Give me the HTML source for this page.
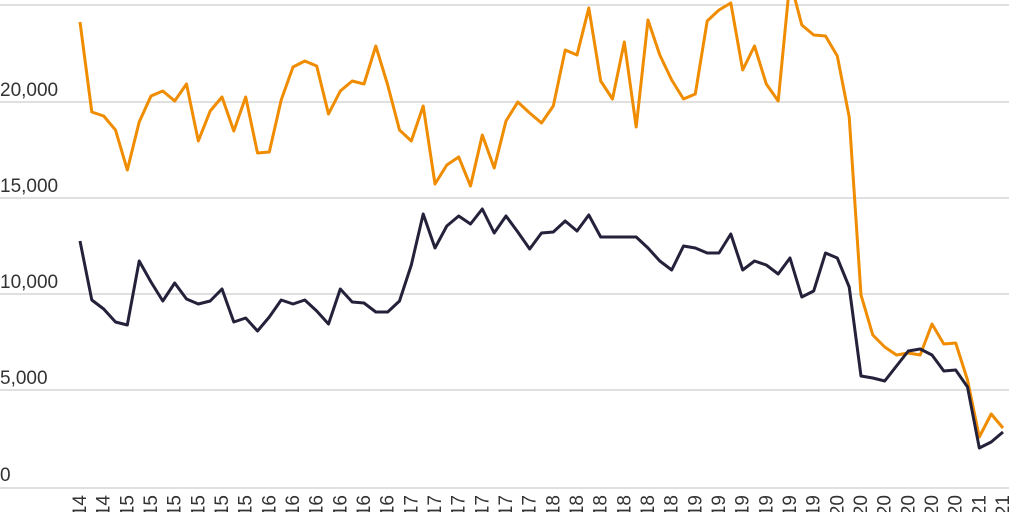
<!DOCTYPE html>
<html><head><meta charset="utf-8"><style>
html,body{margin:0;padding:0;background:#fff;width:1024px;height:512px;overflow:hidden}
text{font-family:"Liberation Sans",sans-serif;fill:#333}
</style></head><body>
<svg width="1024" height="512" viewBox="0 0 1024 512">
<g stroke="#d6d6d6" stroke-width="1.5">
<line x1="0" y1="5" x2="1009" y2="5"/>
<line x1="0" y1="102" x2="1009" y2="102"/>
<line x1="0" y1="198" x2="1009" y2="198"/>
<line x1="0" y1="294" x2="1009" y2="294"/>
<line x1="0" y1="390" x2="1009" y2="390"/>
<line x1="0" y1="488" x2="1009" y2="488"/>
</g>
<g font-size="19">
<text x="0" y="96">20,000</text>
<text x="0" y="192">15,000</text>
<text x="0" y="288">10,000</text>
<text x="0" y="384">5,000</text>
<text x="0" y="481">0</text>
</g>
<g id="xl" font-size="19"></g>
<polyline id="o" fill="none" stroke="#f08c00" stroke-width="3" stroke-linejoin="round"/>
<polyline id="d" fill="none" stroke="#24213a" stroke-width="3" stroke-linejoin="round"/>
</svg>
<script>
var O=[22,112,116,130,170,122,96,91,101,84,141,111,97,131,97,153,152,100,67,61,66,114,91,81,84,46,85,130,141,106,184,165,157,186,135,168,121,102,113,123,106,50,55,8,81,99,42,127,20,55,80,99,94,21,10,3,70,46,84,101,-20,25,35,36,56,117,295,335,347,355,353,355,324,344,343,380,437,414,428];
var D=[241,300,309,322,325,261,282,301,283,299,304,301,289,322,318,331,317,300,304,300,311,324,289,302,303,312,312,301,265,214,248,226,216,224,209,233,216,232,249,233,232,221,231,215,237,237,237,237,248,261,270,246,248,253,253,234,270,261,265,274,258,297,291,253,258,287,376,378,381,366,351,349,355,371,370,387,448,442,432];
function pts(a){return a.map(function(v,i){return (80+i*923/78).toFixed(1)+","+v}).join(" ")}
document.getElementById("o").setAttribute("points",pts(O));
document.getElementById("d").setAttribute("points",pts(D));
var yrs=["14","14"];for(var y=15;y<=20;y++)for(var k=0;k<6;k++)yrs.push(""+y);yrs.push("21","21");
var g=document.getElementById("xl"),s="";
for(var i=0;i<40;i++){var x=80+i*2*923/78;
s+='<text transform="translate('+(x+6)+',495) rotate(-90)" text-anchor="end">Q-'+yrs[i]+'</text>';}
g.innerHTML=s;
</script>
</body></html>
